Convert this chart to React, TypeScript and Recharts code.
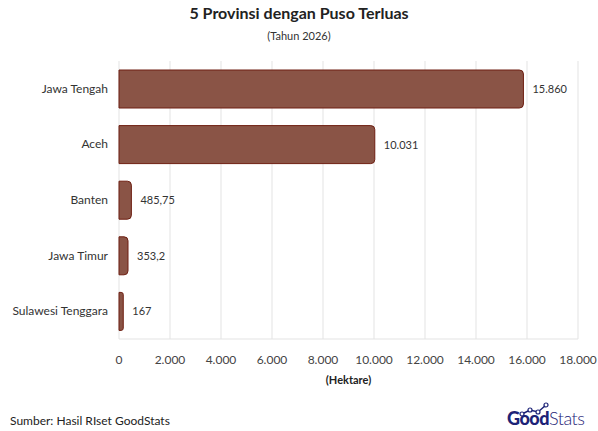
import { BarChart, Bar, XAxis, YAxis, CartesianGrid, LabelList } from 'recharts'

const provinces = ['Jawa Tengah', 'Aceh', 'Banten', 'Jawa Timur', 'Sulawesi Tenggara']
const hectares = [15860, 10031, 485.75, 353.2, 167]
const xTicks = [0, 2000, 4000, 6000, 8000, 10000, 12000, 14000, 16000, 18000]

const data = provinces.map((name, i) => ({ name, value: hectares[i] }))

const FONT = 'Lato, "Open Sans", sans-serif'
const fmt = (v: number) => v.toLocaleString('id-ID')

// single-line category label (recharts would wrap the long one)
function ProvinceTick({ x, y, payload }: any) {
  return (
    <text x={x - 3} y={y} dy={4} textAnchor="end" fontSize={12} fill="#333" fontFamily={FONT}>
      {payload.value}
    </text>
  )
}

export default function App() {
  return (
    <div
      style={{
        position: 'absolute',
        left: 0,
        top: 0,
        width: 598,
        height: 431,
        background: '#fff',
        fontFamily: FONT,
        color: '#222',
      }}
    >
      {/* title block */}
      <div style={{ position: 'absolute', top: 3, width: '100%', textAlign: 'center', fontSize: 16, fontWeight: 700 }}>
        5 Provinsi dengan Puso Terluas
      </div>
      <div style={{ position: 'absolute', top: 29, width: '100%', textAlign: 'center', fontSize: 11, color: '#333' }}>
        (Tahun 2026)
      </div>

      <BarChart
        width={598}
        height={431}
        data={data}
        layout="vertical"
        margin={{ top: 61, right: 20, bottom: 62, left: 0 }}
        barCategoryGap={9}
      >
        <CartesianGrid horizontal={false} stroke="#e3e3e3" />
        <XAxis
          type="number"
          domain={[0, 18000]}
          ticks={xTicks}
          tickFormatter={fmt}
          axisLine={{ stroke: '#e3e3e3' }}
          tickLine={false}
          tick={{ fontSize: 12, fill: '#444', fontFamily: FONT }}
          tickMargin={10}
          height={30}
          interval={0}
        />
        <YAxis
          type="category"
          dataKey="name"
          width={119}
          axisLine={false}
          tickLine={false}
          tick={<ProvinceTick />}
        />
        <Bar
          dataKey="value"
          fill="#8a5446"
          stroke="#6e1f12"
          strokeWidth={1}
          radius={[0, 4, 4, 0]}
          barSize={38}
          isAnimationActive={false}
        >
          <LabelList
            dataKey="value"
            position="right"
            offset={9}
            formatter={(v: any) => fmt(Number(v))}
            style={{ fontSize: 11, fill: '#333', fontFamily: FONT }}
          />
        </Bar>
      </BarChart>

      <div style={{ position: 'absolute', top: 373, left: 119, width: 459, textAlign: 'center', fontSize: 11, fontWeight: 700 }}>
        (Hektare)
      </div>

      <div style={{ position: 'absolute', top: 413, left: 10, fontSize: 12, color: '#222' }}>
        Sumber: Hasil RIset GoodStats
      </div>

      {/* logo */}
      <div style={{ position: 'absolute', top: 408, left: 507, fontSize: 18, lineHeight: '20px', color: '#1d2377', letterSpacing: -0.5 }}>
        <span style={{ fontWeight: 900 }}>Good</span>
        <span style={{ fontWeight: 300 }}>Stats</span>
      </div>
      <svg width={40} height={16} style={{ position: 'absolute', left: 516, top: 402 }}>
        <polyline points="6,12 14,8 22,10 30,3" fill="none" stroke="#1d2377" strokeWidth={1.5} />
        {[[6, 12], [14, 8], [22, 10], [30, 3]].map(([x, y], i) => (
          <circle key={i} cx={x} cy={y} r={2} fill="#fff" stroke="#1d2377" strokeWidth={1.2} />
        ))}
      </svg>
    </div>
  )
}
